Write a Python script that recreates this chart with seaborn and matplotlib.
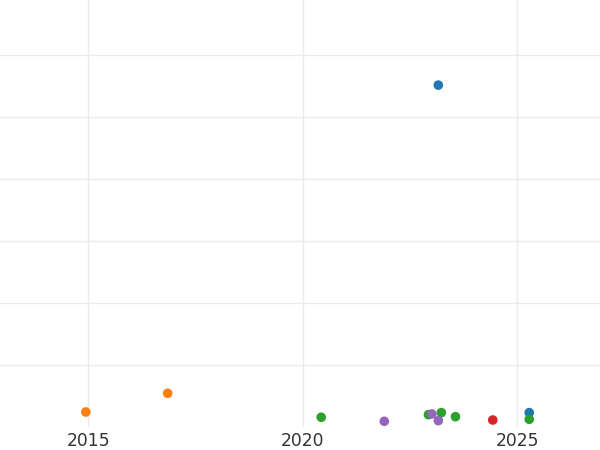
import matplotlib
matplotlib.use("Agg")
import matplotlib.pyplot as plt
import pandas as pd
import seaborn as sns

# data
years = [2023.16, 2025.28,
         2014.94, 2016.85,
         2020.43, 2022.93, 2023.23, 2023.56, 2025.28,
         2024.43,
         2021.90, 2023.01, 2023.16]
values = [5.51, 0.237,
          0.248, 0.549,
          0.163, 0.205, 0.237, 0.172, 0.130,
          0.119,
          0.098, 0.216, 0.108]
groups = ["A", "A",
          "B", "B",
          "C", "C", "C", "C", "C",
          "D",
          "E", "E", "E"]
group_order = ["A", "B", "C", "D", "E"]

df = pd.DataFrame({"year": years, "value": values, "group": groups})

sns.set_theme(style="whitegrid")
plt.rcParams['font.family'] = ['DejaVu Sans']

fig = plt.figure(figsize=(6, 4.5), dpi=100)
ax = fig.add_axes([0, 0.0518, 1, 0.9482])

sns.scatterplot(data=df, x="year", y="value", hue="group", hue_order=group_order,
                palette="tab10", s=48, linewidth=0, legend=False, ax=ax)

ax.set_xlim(2012.94, 2026.93)
ax.set_ylim(0.011, 6.88)
ax.set_xticks([2015, 2020, 2025])
ax.set_yticks([1, 2, 3, 4, 5, 6])
ax.set_yticklabels([])
ax.set_xlabel("")
ax.set_ylabel("")
ax.grid(True, color="#ebebeb", linewidth=1)
ax.tick_params(axis="x", labelsize=12.3, colors="#333333", length=0, pad=4)
ax.tick_params(axis="y", length=0)
for sp in ax.spines.values():
    sp.set_visible(False)

fig.savefig("out.png", dpi=100)
